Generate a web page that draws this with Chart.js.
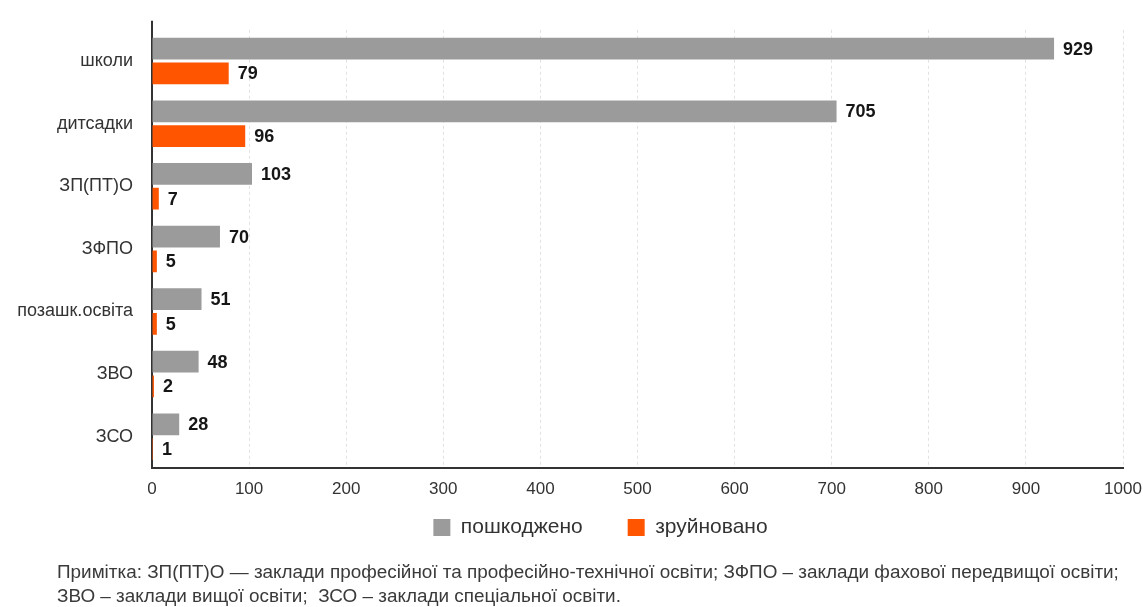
<!DOCTYPE html>
<html lang="uk">
<head>
<meta charset="utf-8">
<title>Пошкоджені та зруйновані заклади освіти</title>
<script src="https://cdn.jsdelivr.net/npm/chart.js@4/dist/chart.umd.min.js"></script>
<style>
  html, body { margin: 0; padding: 0; background: #ffffff; }
  #wrap { position: relative; width: 1143px; height: 607px; }
  #chart { position: absolute; left: 0; top: 0; }
  #note {
    position: absolute; left: 57px; top: 560px; width: 1080px;
    font-family: "Liberation Sans", Arial, sans-serif;
    font-size: 18.9px; line-height: 24px; color: #3a3a3a;
  }
</style>
</head>
<body>
<div id="wrap">
  <canvas id="chart" width="1143" height="607"></canvas>
  <div id="note">Примітка: ЗП(ПТ)О — заклади професійної та професійно-технічної освіти; ЗФПО – заклади фахової передвищої освіти;<br>ЗВО – заклади вищої освіти;&nbsp; ЗСО – заклади спеціальної освіти.</div>
</div>
<script>
// Categories of educational institutions
const categories = ['школи', 'дитсадки', 'ЗП(ПТ)О', 'ЗФПО', 'позашк.освіта', 'ЗВО', 'ЗСО'];
// Number of damaged institutions
const damaged = [929, 705, 103, 70, 51, 48, 28];
// Number of destroyed institutions
const destroyed = [79, 96, 7, 5, 5, 2, 1];
// Series names
const seriesNames = ['пошкоджено', 'зруйновано'];
// Value axis ticks
const xTicks = [0, 100, 200, 300, 400, 500, 600, 700, 800, 900, 1000];

const FONT = '"Liberation Sans", Arial, sans-serif';

// Writes each bar's value just past its end
const valueLabels = {
  id: 'valueLabels',
  afterDatasetsDraw(chart) {
    const ctx = chart.ctx;
    ctx.save();
    ctx.font = 'bold 18px ' + FONT;
    ctx.fillStyle = '#161616';
    ctx.textAlign = 'left';
    ctx.textBaseline = 'middle';
    chart.data.datasets.forEach((ds, i) => {
      chart.getDatasetMeta(i).data.forEach((bar, j) => {
        ctx.fillText(String(ds.data[j]), bar.x + 9, bar.y + 1);
      });
    });
    ctx.restore();
  }
};

// Extends the category axis line a little above the plot area
const axisCap = {
  id: 'axisCap',
  afterDraw(chart) {
    const { ctx, chartArea } = chart;
    ctx.save();
    ctx.strokeStyle = '#333333';
    ctx.lineWidth = 2;
    ctx.beginPath();
    ctx.moveTo(chartArea.left, chartArea.top - 9);
    ctx.lineTo(chartArea.left, chartArea.top + 1);
    ctx.stroke();
    ctx.restore();
  }
};

// Places the legend row just under the tick labels, centred a bit right of the page middle
const legendPlacement = {
  id: 'legendPlacement',
  afterLayout(chart) {
    const lg = chart.legend;
    const area = chart.chartArea;
    const h = lg.height;
    lg.top = area.bottom + 4;
    lg.bottom = lg.top + h;
    lg.left = area.left - 94;
    lg.right = area.right + 20;
  }
};

new Chart(document.getElementById('chart'), {
  type: 'bar',
  data: {
    labels: categories,
    datasets: [
      {
        label: seriesNames[0],
        data: damaged,
        backgroundColor: '#9b9b9b',
        barPercentage: 0.88,
        categoryPercentage: 0.79
      },
      {
        label: seriesNames[1],
        data: destroyed,
        backgroundColor: '#ff5500',
        barPercentage: 0.88,
        categoryPercentage: 0.79
      }
    ]
  },
  options: {
    indexAxis: 'y',
    responsive: false,
    animation: false,
    layout: { padding: { left: 0, right: 20, top: 26, bottom: 32 } },
    scales: {
      x: {
        min: 0,
        max: 1000,
        afterBuildTicks(scale) { scale.ticks = xTicks.map(v => ({ value: v })); },
        afterFit(scale) {
          scale.height = 32;
          scale.paddingLeft = 0;
          scale.paddingRight = 0;
        },
        grid: { color: '#e2e2e2', lineWidth: 1, drawTicks: false },
        border: { display: true, color: '#333333', width: 2, dash: [3, 3] },
        ticks: {
          padding: 11,
          color: '#333333',
          font: { family: FONT, size: 17 },
          callback: (v) => String(v)
        }
      },
      y: {
        afterFit(scale) { scale.width = 152; },
        grid: { display: false, drawTicks: false },
        border: { display: true, color: '#333333', width: 2 },
        ticks: {
          padding: 19,
          color: '#333333',
          font: { family: FONT, size: 18 }
        }
      }
    },
    plugins: {
      legend: {
        position: 'bottom',
        maxHeight: 75,
        labels: {
          boxWidth: 17,
          boxHeight: 17,
          padding: 45,
          color: '#333333',
          font: { family: FONT, size: 21 }
        }
      },
      tooltip: { enabled: false }
    }
  },
  plugins: [valueLabels, axisCap, legendPlacement]
});
</script>
</body>
</html>
